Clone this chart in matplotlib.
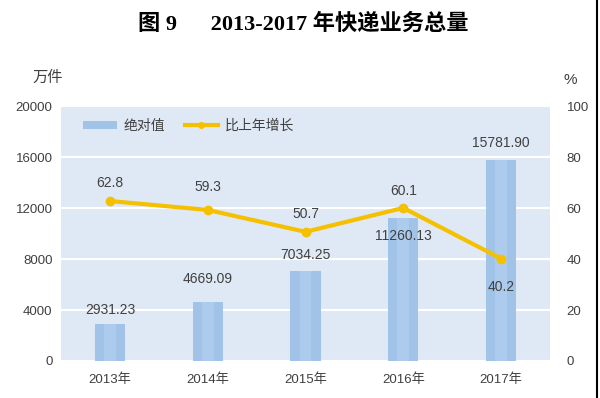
import matplotlib
matplotlib.use("Agg")
import matplotlib.pyplot as plt
from matplotlib.lines import Line2D
from matplotlib.patches import Patch

plt.rcParams['font.family'] = ['Liberation Sans', 'Noto Sans CJK SC']

years = ['2013年', '2014年', '2015年', '2016年', '2017年']
volume = [2931.23, 4669.09, 7034.25, 11260.13, 15781.90]
growth = [62.8, 59.3, 50.7, 60.1, 40.2]
vol_labels = ['2931.23', '4669.09', '7034.25', '11260.13', '15781.90']
# offsets for value labels
vol_off = [1100, 1750, 1300, -1450, 1300]
gr_off = [7, 9, 7, 6.5, -11]

fig = plt.figure(figsize=(6, 3.98), dpi=100)
ax = fig.add_axes([0.1017, 0.093, 0.815, 0.64])
ax.set_facecolor('#dfe9f5')
x = range(len(years))

ax.bar(x, volume, width=0.31, color='#a2c3e8', zorder=2)
ax.bar(x, volume, width=0.12, color='#adcbec', zorder=2)
ax.set_xlim(-0.5, 4.5)
ax.set_ylim(0, 20000)
ax.set_yticks([0, 4000, 8000, 12000, 16000, 20000])
ax.set_xticks(list(x))
ax.set_xticklabels(years)
ax.grid(axis='y', color='white', lw=1.5, zorder=1)
ax.set_axisbelow(True)
for s in ax.spines.values():
    s.set_visible(False)
ax.tick_params(length=0, labelsize=9.5, colors='#404040', pad=6)
ax.tick_params(axis='x', pad=9)

for i, v in enumerate(volume):
    ax.text(i, v + vol_off[i], vol_labels[i], ha='center', va='center',
            fontsize=10, color='#404040', zorder=5)

ax2 = ax.twinx()
ax2.set_ylim(0, 100)
ax2.set_yticks([0, 20, 40, 60, 80, 100])
for s in ax2.spines.values():
    s.set_visible(False)
ax2.tick_params(length=0, labelsize=9.5, colors='#404040', pad=12)
ax2.plot(list(x), growth, color='#f5c000', lw=3, marker='o', ms=6, zorder=4)
for i, g in enumerate(growth):
    ax2.text(i, g + gr_off[i], f'{g:.1f}', ha='center', va='center',
             fontsize=10, color='#404040', zorder=5)

handles = [Patch(facecolor='#a2c3e8', edgecolor='none'),
           Line2D([0], [0], color='#f5c000', lw=3, marker='o', ms=4)]
ax2.legend(handles, ['绝对值', '比上年增长'], loc='upper left', ncol=2,
           frameon=False, fontsize=10, bbox_to_anchor=(0.02, 1.0),
           handlelength=2.4, handleheight=0.5, handletextpad=0.5,
           columnspacing=1.4, labelcolor='#404040')

fig.text(0.08, 0.805, '万件', fontsize=11, color='#404040', ha='center', va='center')
fig.text(0.95, 0.8, '%', fontsize=11, color='#404040', ha='center', va='center')
fig.text(0.505, 0.94, '图 9      2013-2017 年快递业务总量', fontsize=16,
         fontweight='bold', ha='center', va='center',
         family=['Liberation Serif', 'Noto Sans CJK SC'])
fig.add_artist(Line2D([0.995, 0.995], [0, 1], color='black', lw=1.5))

fig.savefig('out.png', dpi=100)
